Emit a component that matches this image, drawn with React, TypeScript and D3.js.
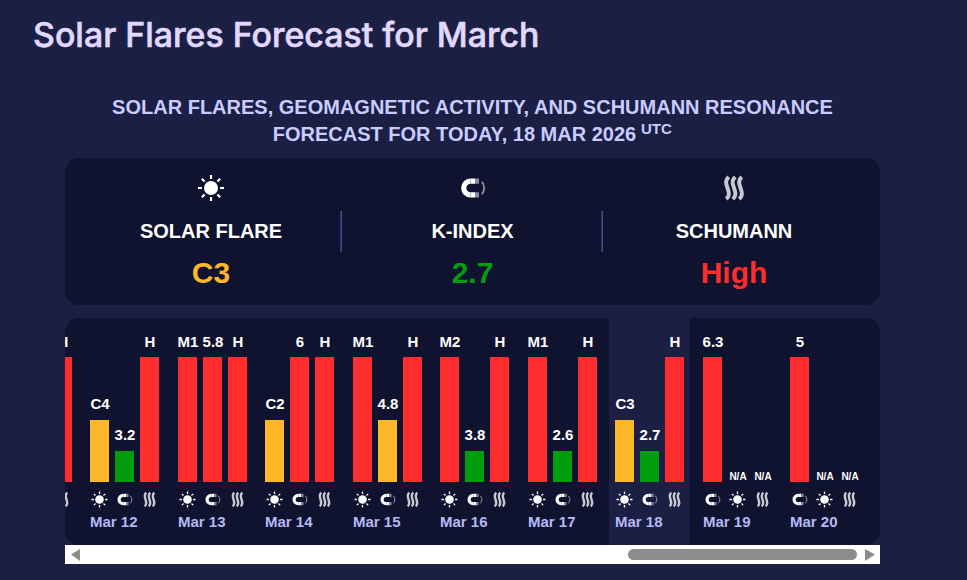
import { range, scaleBand, scaleLinear } from "d3";

const WIDTH = 967;
const HEIGHT = 580;
const BAR_WIDTH = 19;

const RED = "#ff2d2d";
const AMBER = "#fdb827";
const GREEN = "#009e0f";

const days = ["Mar 11", "Mar 12", "Mar 13", "Mar 14", "Mar 15", "Mar 16", "Mar 17", "Mar 18", "Mar 19", "Mar 20"];
const today = "Mar 18";

const flareLabels = ["", "C4", "M1", "C2", "M1", "M2", "M1", "C3", "N/A", "N/A"];
const flareLevels = [0, 2, 4, 2, 4, 4, 4, 2, 0, 0];
const kLabels = ["", "3.2", "5.8", "6", "4.8", "3.8", "2.6", "2.7", "6.3", "5"];
const kLevels = [0, 1, 4, 4, 2, 1, 1, 1, 4, 4];
const schumannLabels = ["H", "H", "H", "H", "H", "H", "H", "H", "N/A", "N/A"];
const schumannLevels = [4, 4, 4, 4, 4, 4, 4, 4, 0, 0];

const normalOrder = ["flare", "k", "schumann"];
const laterOrder = ["k", "flare", "schumann"];

const levelColors = ["none", GREEN, AMBER, RED, RED];

const summaryNames = ["SOLAR FLARE", "K-INDEX", "SCHUMANN"];
const summaryValues = ["C3", "2.7", "High"];
const summaryColors = [AMBER, GREEN, RED];

const dayX = scaleBand<string>()
  .domain(days)
  .range([2.5, 2.5 + 87.5 * days.length]);
const slotX = scaleBand<number>().domain([0, 1, 2]).range([0, 75]);
const levelY = scaleLinear().domain([0, 4]).range([482, 357]);

function SunIcon({ x, y, size }: { x: number; y: number; size: number }) {
  const k = size / 8;
  return (
    <g transform={`translate(${x},${y}) scale(${k})`} stroke="#fff" fill="#fff">
      <circle r={4.3} stroke="none" />
      {range(8).map((i) => {
        const a = (i * Math.PI) / 4;
        return (
          <line
            key={i}
            x1={Math.cos(a) * 5.6}
            y1={Math.sin(a) * 5.6}
            x2={Math.cos(a) * 8}
            y2={Math.sin(a) * 8}
            strokeWidth={1.3}
          />
        );
      })}
    </g>
  );
}

function MagnetIcon({ x, y, size }: { x: number; y: number; size: number }) {
  const k = size / 8;
  return (
    <g transform={`translate(${x},${y}) scale(${k})`} fill="none">
      <path d="M0,-4.2 A4.2,4.2 0 1 0 0,4.2" transform="translate(-1.2,0)" stroke="#fff" strokeWidth={3.2} />
      <path d="M-1.2,-4.2 H1.8 M-1.2,4.2 H1.8" stroke="#fff" strokeWidth={3.2} />
      <path d="M1.8,-4.2 H4 M1.8,4.2 H4" stroke="#8c8c9c" strokeWidth={3.2} />
      <path d="M5.8,-3.8 A6,6 0 0 1 5.8,3.8" stroke="#9a9aa8" strokeWidth={1} />
    </g>
  );
}

function WavesIcon({ x, y, size }: { x: number; y: number; size: number }) {
  const k = size / 8;
  return (
    <g transform={`translate(${x},${y}) scale(${k})`} fill="none" stroke="#c8c8d0" strokeWidth={2.4}>
      {[-4, 0, 4].map((dx) => (
        <path key={dx} d={`M${dx + 0.8},-6.8 C${dx - 4.2},-2.5 ${dx + 4.2},2.5 ${dx - 0.8},6.8`} />
      ))}
    </g>
  );
}

function Icon({ kind, x, y, size }: { kind: string; x: number; y: number; size: number }) {
  if (kind === "flare") return <SunIcon x={x} y={y} size={size} />;
  if (kind === "k") return <MagnetIcon x={x} y={y} size={size} />;
  return <WavesIcon x={x} y={y} size={size} />;
}

const seriesFor = (kind: string, i: number) => {
  if (kind === "flare") return { label: flareLabels[i], level: flareLevels[i] };
  if (kind === "k") return { label: kLabels[i], level: kLevels[i] };
  return { label: schumannLabels[i], level: schumannLevels[i] };
};

export default function App() {
  const sans = "'Liberation Sans', Arial, sans-serif";
  return (
    <>
      <style>{"html,body{margin:0;padding:0;overflow:hidden;background:#1c1f44}"}</style>
      <svg width={WIDTH} height={HEIGHT} style={{ display: "block" }}>
        <defs>
          <clipPath id="chart-clip">
            <rect x={65} y={318} width={815} height={227} rx={14} />
          </clipPath>
        </defs>
        <rect width={WIDTH} height={HEIGHT} fill="#1c1f44" />

        {/* the installed Inter has no medium weight, a thin stroke makes up for it */}
        <text
          x={33}
          y={47}
          fill="#e0d8ff"
          stroke="#e0d8ff"
          strokeWidth={0.6}
          fontFamily="Inter, sans-serif"
          fontSize={33.9}
          fontWeight={500}
        >
          Solar Flares Forecast for March
        </text>

        <g fontFamily={sans} fontWeight={700} fontSize={20} fill="#c8ccff" textAnchor="middle">
          <text x={472.5} y={114}>SOLAR FLARES, GEOMAGNETIC ACTIVITY, AND SCHUMANN RESONANCE</text>
          <text x={454.5} y={141}>FORECAST FOR TODAY, 18 MAR 2026</text>
          <text x={641} y={134} textAnchor="start" fontSize={15}>UTC</text>
        </g>

        <rect x={65} y={158} width={815} height={147} rx={14} fill="#0f132f" />
        {summaryNames.map((name, i) => {
          const cx = [211, 472.5, 734][i];
          return (
            <g key={name} fontFamily={sans} fontWeight={700} textAnchor="middle">
              <Icon kind={normalOrder[i]} x={cx} y={188} size={13} />
              <text x={cx} y={238} fontSize={20} fill="#fff">{name}</text>
              <text x={cx} y={283} fontSize={30} fill={summaryColors[i]}>{summaryValues[i]}</text>
            </g>
          );
        })}
        {[341.2, 602.2].map((x) => (
          <line key={x} x1={x} x2={x} y1={211} y2={252} stroke="#4f55a8" strokeWidth={1.3} />
        ))}

        <rect x={65} y={318} width={815} height={227} rx={14} fill="#0f132f" />
        <g clipPath="url(#chart-clip)">
          <rect
            x={Math.round(dayX(today) ?? 0) - 6}
            y={318}
            width={81}
            height={227}
            fill="#1c1f44"
          />
          {days.map((day, i) => {
            const left = Math.round(dayX(day) ?? 0);
            const order = i >= 8 ? laterOrder : normalOrder;
            return (
              <g key={day} fontFamily={sans} fontWeight={700}>
                {order.map((kind, slot) => {
                  const { label, level } = seriesFor(kind, i);
                  const x = left + (slotX(slot) ?? 0);
                  const top = Math.round(levelY(level));
                  const isNa = label === "N/A";
                  return (
                    <g key={kind}>
                      {level > 0 && (
                        <rect
                          x={x}
                          y={top}
                          width={BAR_WIDTH}
                          height={levelY(0) - top}
                          fill={levelColors[level]}
                        />
                      )}
                      <text
                        x={x + BAR_WIDTH / 2 + 0.5}
                        y={isNa ? 480 : top - (level === 4 ? 10 : 11)}
                        fontSize={isNa ? 10 : 15}
                        fill="#fff"
                        textAnchor="middle"
                      >
                        {label}
                      </text>
                      <Icon kind={kind} x={x + BAR_WIDTH / 2} y={499.5} size={8} />
                    </g>
                  );
                })}
                <text x={left} y={527} fontSize={15} fill="#b5b9f5">{day}</text>
              </g>
            );
          })}
        </g>

        <rect x={65} y={545} width={815} height={19} fill="#fff" />
        <rect x={628} y={549} width={229} height={11} rx={5.5} fill="#8c8c8c" />
        <path d="M71,554.5 L80,549 L80,561 Z" fill="#8c8c8c" />
        <path d="M865,549 L875,554.5 L865,561 Z" fill="#8c8c8c" />
      </svg>
    </>
  );
}
